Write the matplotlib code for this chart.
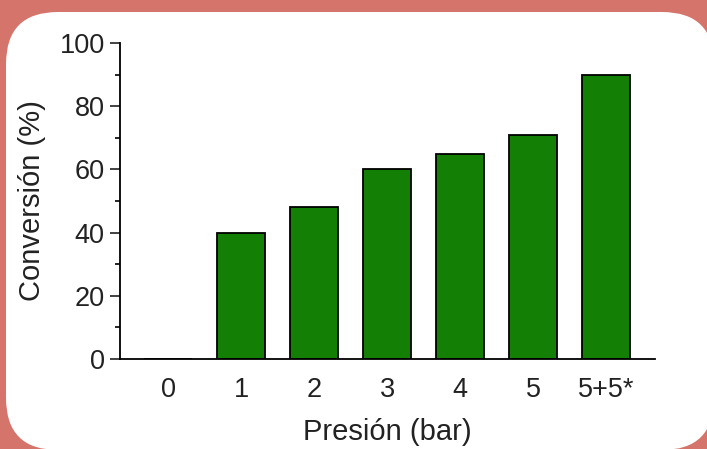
import matplotlib.pyplot as plt
from matplotlib.patches import FancyBboxPatch
from matplotlib.transforms import IdentityTransform
from matplotlib.ticker import MultipleLocator

# data
categories = ['0', '1', '2', '3', '4', '5', '5+5*']
conversion = [0, 40, 48, 60, 65, 71, 90]

plt.rcParams['font.family'] = ['Liberation Sans', 'DejaVu Sans']

fig = plt.figure(figsize=(7.07, 4.49), dpi=100)
fig.patch.set_facecolor('#D4746A')

# white rounded panel behind the chart (pixel coords)
panel = FancyBboxPatch((6, -1), 708, 438, boxstyle='round,pad=0,rounding_size=52',
                       transform=IdentityTransform(), facecolor='white',
                       edgecolor='none', zorder=-10)
fig.patches.append(panel)

ax = fig.add_axes([0.1697, 0.2004, 0.9264 - 0.1697, 0.9042 - 0.2004])
ax.set_facecolor('none')

x = range(len(categories))
ax.bar(x, conversion, width=0.65, color='#147F05', edgecolor='black', linewidth=1.3)

ax.set_xlim(-0.66, 6.67)
ax.set_ylim(0, 100)
ax.set_xticks(list(x))
ax.set_xticklabels(categories)
ax.yaxis.set_major_locator(MultipleLocator(20))
ax.yaxis.set_minor_locator(MultipleLocator(10))

ax.spines['top'].set_visible(False)
ax.spines['right'].set_visible(False)
ax.spines['left'].set_linewidth(1.3)
ax.spines['bottom'].set_linewidth(1.3)

ax.tick_params(axis='y', which='major', length=7, width=1.2, labelsize=19.5, pad=4, colors='#222222')
ax.tick_params(axis='y', which='minor', length=3.6, width=1.2)
ax.tick_params(axis='x', length=0, labelsize=19.5, pad=13, colors='#222222')

ax.set_xlabel('Presión (bar)', fontsize=21, labelpad=11, color='#222222')
ax.set_ylabel('Conversión (%)', fontsize=21, labelpad=10, color='#222222')

fig.savefig('out.png', dpi=100, facecolor=fig.get_facecolor())
